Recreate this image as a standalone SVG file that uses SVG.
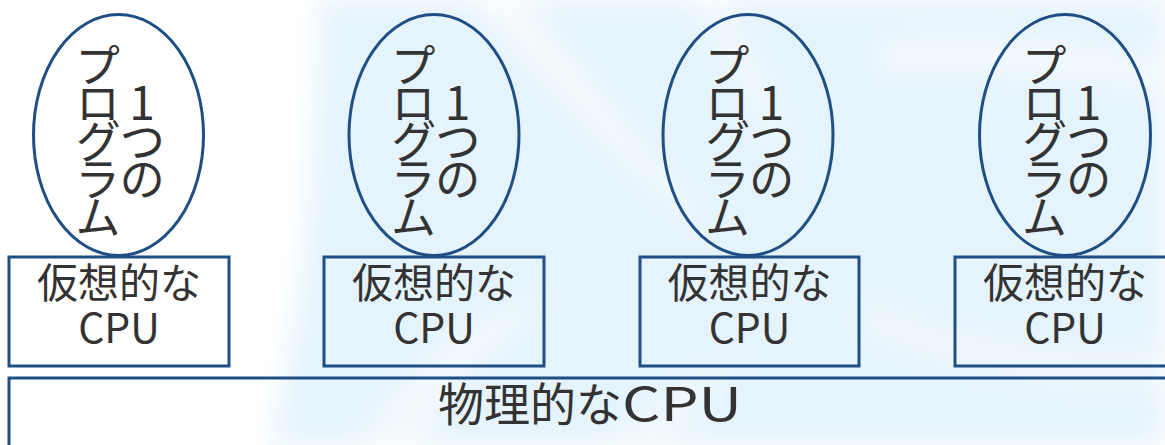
<svg xmlns="http://www.w3.org/2000/svg" width="1165" height="445" viewBox="0 0 1165 445">
  <defs>
    <style>
      .shape { fill: none; stroke: #1f4e85; stroke-width: 3; }
      .lbl { font-family: "Noto Sans CJK JP", "Noto Sans", sans-serif; fill: #333333; text-anchor: middle; }
      .vt { font-family: "Noto Sans CJK JP", "Noto Sans", sans-serif; fill: #333333; font-size: 46px; letter-spacing: -8px; writing-mode: vertical-rl; text-orientation: upright; text-anchor: middle; }
      .box { font-size: 41px; }
      .big { font-size: 46px; }
      .blade { fill: #ffffff; }
    </style>
    <filter id="soft" x="-20%" y="-20%" width="140%" height="140%">
      <feGaussianBlur stdDeviation="14"/>
    </filter>
  </defs>

  <g id="background">
    <rect x="0" y="0" width="1165" height="445" fill="#ffffff"/>
    <g filter="url(#soft)">
      <path d="M320 0 L1165 0 L1165 445 L270 445 C300 330 315 200 320 0 Z" fill="#e4f3fc"/>
      <path class="blade" d="M520 0 C580 70 640 150 720 240 C650 190 580 110 470 0 Z" opacity="0.75"/>
      <path class="blade" d="M720 0 C760 60 790 120 800 200 C770 140 740 80 690 0 Z" opacity="0.5"/>
      <path class="blade" d="M880 40 C980 30 1060 40 1165 60 L1165 90 C1060 75 980 70 880 75 Z" opacity="0.55"/>
      <path class="blade" d="M860 300 C940 330 1060 360 1165 350 L1165 385 C1060 395 950 370 860 330 Z" opacity="0.45"/>
      <path class="blade" d="M360 445 C400 370 460 320 560 290 C500 340 450 390 420 445 Z" opacity="0.55"/>
      <path class="blade" d="M600 445 C640 400 690 370 760 350 C720 390 690 420 670 445 Z" opacity="0.4"/>
    </g>
  </g>

  <g id="connectors"></g>

  <g id="program1">
    <ellipse class="shape" cx="118.5" cy="135" rx="85" ry="120.5"/>
    <text class="vt" x="142" y="137">1つの</text>
    <text class="vt" x="98" y="137">プログラム</text>
  </g>
  <g id="program2">
    <ellipse class="shape" cx="434" cy="135" rx="85" ry="120.5"/>
    <text class="vt" x="457.5" y="137">1つの</text>
    <text class="vt" x="413.5" y="137">プログラム</text>
  </g>
  <g id="program3">
    <ellipse class="shape" cx="748" cy="135" rx="85" ry="120.5"/>
    <text class="vt" x="771.5" y="137">1つの</text>
    <text class="vt" x="727.5" y="137">プログラム</text>
  </g>
  <g id="program4">
    <ellipse class="shape" cx="1065" cy="135" rx="85.5" ry="120.5"/>
    <text class="vt" x="1088.5" y="137">1つの</text>
    <text class="vt" x="1044.5" y="137">プログラム</text>
  </g>

  <g id="vcpu1">
    <rect class="shape" x="9" y="257" width="220" height="109"/>
    <text class="lbl box"><tspan x="119" y="298">仮想的な</tspan><tspan x="119" y="343">CPU</tspan></text>
  </g>
  <g id="vcpu2">
    <rect class="shape" x="324" y="257" width="220" height="109"/>
    <text class="lbl box"><tspan x="434" y="298">仮想的な</tspan><tspan x="434" y="343">CPU</tspan></text>
  </g>
  <g id="vcpu3">
    <rect class="shape" x="640" y="257" width="219" height="109"/>
    <text class="lbl box"><tspan x="749.5" y="298">仮想的な</tspan><tspan x="749.5" y="343">CPU</tspan></text>
  </g>
  <g id="vcpu4">
    <rect class="shape" x="955" y="257" width="220" height="109"/>
    <text class="lbl box"><tspan x="1065" y="298">仮想的な</tspan><tspan x="1065" y="343">CPU</tspan></text>
  </g>

  <g id="pcpu">
    <rect class="shape" x="9" y="378" width="1170" height="80"/>
    <text class="lbl big" x="438" y="421" style="text-anchor: start"><tspan>物理的な</tspan><tspan textLength="120" lengthAdjust="spacingAndGlyphs">CPU</tspan></text>
  </g>
</svg>
